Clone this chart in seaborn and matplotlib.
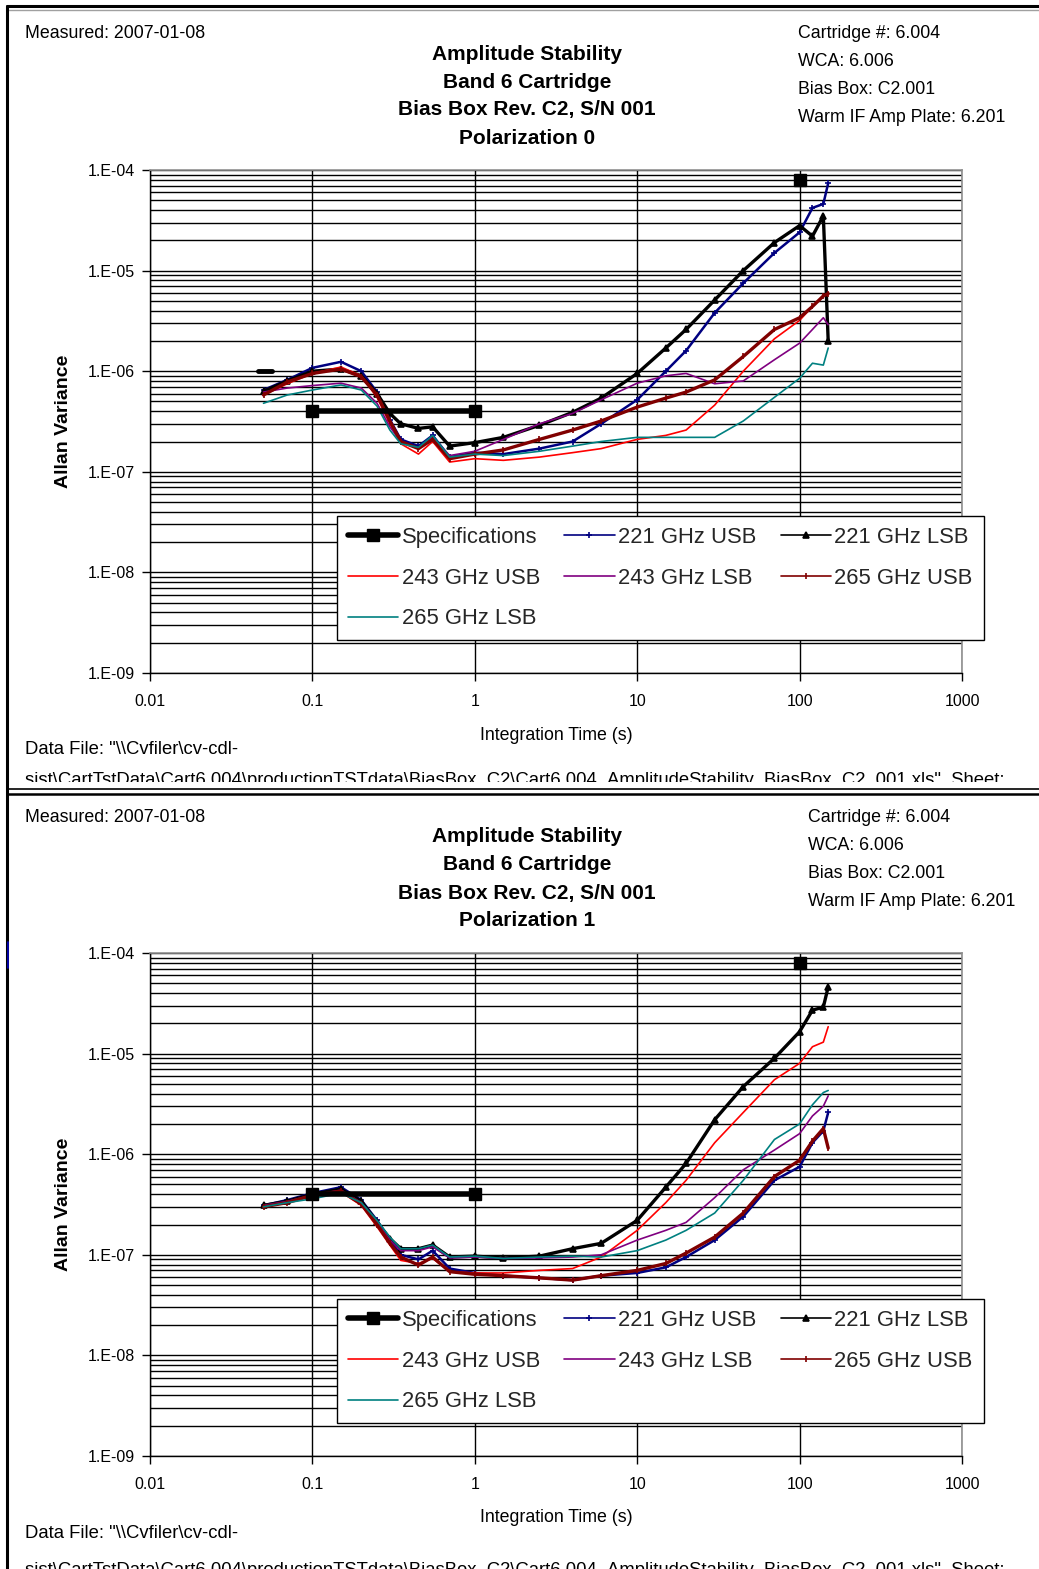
import numpy as np
import matplotlib
matplotlib.use('Agg')
import matplotlib.pyplot as plt
from matplotlib.lines import Line2D
from matplotlib.ticker import LogLocator, FuncFormatter, NullFormatter
import seaborn as sns

# figure size in pixels
W, H = 1039, 1569

# integration times (s)
tau = [0.05, 0.07, 0.1, 0.15, 0.2, 0.25, 0.3, 0.35, 0.45, 0.55, 0.7, 1.0, 1.5,
       2.5, 4, 6, 10, 15, 20, 30, 45, 70, 100, 120, 140, 150]

# Polarization 0 - Allan variance
p0_221_usb = [6.5e-7, 8.2e-7, 1.08e-6, 1.24e-6, 1.0e-6, 6.2e-7, 3.3e-7, 2.1e-7, 1.8e-7, 2.3e-7, 1.4e-7, 1.55e-7, 1.5e-7,
              1.7e-7, 2.0e-7, 3.0e-7, 5.2e-7, 1.0e-6, 1.6e-6, 3.8e-6, 7.5e-6, 1.5e-5, 2.4e-5, 4.2e-5, 4.6e-5, 7.4e-5]
p0_221_lsb = [6.3e-7, 8.0e-7, 1.0e-6, 1.05e-6, 9.0e-7, 6.0e-7, 3.8e-7, 3.0e-7, 2.7e-7, 2.8e-7, 1.8e-7, 1.95e-7, 2.2e-7,
              2.9e-7, 3.9e-7, 5.4e-7, 9.5e-7, 1.7e-6, 2.6e-6, 5.1e-6, 1.0e-5, 1.9e-5, 2.8e-5, 2.2e-5, 3.5e-5, 2.0e-6]
p0_243_usb = [5.8e-7, 7.5e-7, 9.5e-7, 1.1e-6, 9.0e-7, 5.5e-7, 3.0e-7, 1.9e-7, 1.5e-7, 2.0e-7, 1.25e-7, 1.35e-7, 1.3e-7,
              1.4e-7, 1.55e-7, 1.7e-7, 2.1e-7, 2.3e-7, 2.6e-7, 4.6e-7, 1.0e-6, 2.1e-6, 3.2e-6, 4.4e-6, 5.6e-6, 6.0e-6]
p0_243_lsb = [6.2e-7, 6.8e-7, 7.2e-7, 7.6e-7, 6.8e-7, 4.8e-7, 2.8e-7, 2.0e-7, 1.7e-7, 2.2e-7, 1.45e-7, 1.6e-7, 2.1e-7,
              3.0e-7, 3.8e-7, 5.2e-7, 7.6e-7, 9.0e-7, 9.5e-7, 7.5e-7, 8.0e-7, 1.3e-6, 1.9e-6, 2.6e-6, 3.4e-6, 2.9e-6]
p0_265_usb = [5.8e-7, 7.8e-7, 9.5e-7, 1.05e-6, 8.8e-7, 5.8e-7, 3.2e-7, 2.0e-7, 1.7e-7, 2.1e-7, 1.35e-7, 1.5e-7, 1.65e-7,
              2.1e-7, 2.6e-7, 3.2e-7, 4.4e-7, 5.4e-7, 6.2e-7, 8.2e-7, 1.4e-6, 2.6e-6, 3.4e-6, 4.4e-6, 5.6e-6, 5.9e-6]
p0_265_lsb = [4.8e-7, 5.8e-7, 6.5e-7, 7.3e-7, 6.5e-7, 4.5e-7, 2.6e-7, 1.9e-7, 1.75e-7, 2.3e-7, 1.4e-7, 1.5e-7, 1.45e-7,
              1.6e-7, 1.8e-7, 2.0e-7, 2.2e-7, 2.2e-7, 2.2e-7, 2.2e-7, 3.2e-7, 5.5e-7, 8.5e-7, 1.2e-6, 1.15e-6, 1.7e-6]

# Polarization 1 - Allan variance
p1_221_usb = [3.1e-7, 3.5e-7, 4.1e-7, 4.7e-7, 3.5e-7, 2.2e-7, 1.4e-7, 1.0e-7, 9.0e-8, 1.1e-7, 7.3e-8, 6.6e-8, 6.2e-8,
              5.9e-8, 5.6e-8, 6.2e-8, 6.6e-8, 7.5e-8, 9.5e-8, 1.4e-7, 2.4e-7, 5.5e-7, 7.5e-7, 1.3e-6, 1.7e-6, 2.6e-6]
p1_221_lsb = [3.1e-7, 3.4e-7, 4.0e-7, 4.5e-7, 3.4e-7, 2.1e-7, 1.45e-7, 1.15e-7, 1.15e-7, 1.25e-7, 9.5e-8, 9.7e-8, 9.3e-8,
              9.7e-8, 1.15e-7, 1.3e-7, 2.2e-7, 4.7e-7, 8.1e-7, 2.2e-6, 4.7e-6, 9.0e-6, 1.65e-5, 2.7e-5, 2.9e-5, 4.6e-5]
p1_243_usb = [3.0e-7, 3.3e-7, 3.9e-7, 4.2e-7, 3.1e-7, 1.9e-7, 1.25e-7, 8.8e-8, 8.2e-8, 9.2e-8, 6.8e-8, 6.6e-8, 6.6e-8,
              7.0e-8, 7.3e-8, 9.5e-8, 1.75e-7, 3.3e-7, 5.5e-7, 1.3e-6, 2.6e-6, 5.5e-6, 8.0e-6, 1.17e-5, 1.3e-5, 1.85e-5]
p1_243_lsb = [3.1e-7, 3.4e-7, 3.9e-7, 4.4e-7, 3.3e-7, 2.1e-7, 1.4e-7, 1.1e-7, 1.1e-7, 1.2e-7, 9.3e-8, 9.5e-8, 9.2e-8,
              9.3e-8, 9.5e-8, 1.0e-7, 1.4e-7, 1.75e-7, 2.1e-7, 3.7e-7, 7.0e-7, 1.1e-6, 1.6e-6, 2.4e-6, 3.0e-6, 3.8e-6]
p1_265_usb = [3.0e-7, 3.3e-7, 3.9e-7, 4.3e-7, 3.2e-7, 2.0e-7, 1.3e-7, 9.5e-8, 7.9e-8, 9.5e-8, 6.8e-8, 6.4e-8, 6.2e-8,
              5.9e-8, 5.6e-8, 6.2e-8, 7.0e-8, 8.2e-8, 1.04e-7, 1.5e-7, 2.6e-7, 6.0e-7, 8.7e-7, 1.35e-6, 1.8e-6, 1.15e-6]
p1_265_lsb = [3.0e-7, 3.3e-7, 3.6e-7, 4.1e-7, 3.3e-7, 2.2e-7, 1.5e-7, 1.15e-7, 1.15e-7, 1.25e-7, 9.5e-8, 9.7e-8, 9.2e-8,
              9.5e-8, 9.7e-8, 9.5e-8, 1.1e-7, 1.4e-7, 1.75e-7, 2.6e-7, 5.5e-7, 1.4e-6, 2.0e-6, 3.1e-6, 4.1e-6, 4.3e-6]

# specification limits
spec_tau = [0.1, 1.0]
spec_val = [4e-7, 4e-7]
spec_pt_tau = [100.0]
spec_pt_val = [8e-5]
p0_dash_tau = [0.046, 0.056]
p0_dash_val = [1e-6, 1e-6]

series_labels = ['221 GHz USB', '221 GHz LSB', '243 GHz USB', '243 GHz LSB', '265 GHz USB', '265 GHz LSB']
series_colors = ['#000080', '#000000', '#FF0000', '#800080', '#800000', '#008080']
series_markers = ['+', '^', None, None, '|', None]

title_lines = ['Amplitude Stability', 'Band 6 Cartridge', 'Bias Box Rev. C2, S/N 001']
info_lines = ['Cartridge #: 6.004', 'WCA: 6.006', 'Bias Box: C2.001', 'Warm IF Amp Plate: 6.201']
measured = 'Measured: 2007-01-08'
datafile_1 = 'Data File: "\\\\Cvfiler\\cv-cdl-'
datafile_2 = ('sist\\CartTstData\\Cart6.004\\productionTSTdata\\BiasBox_C2\\'
              'Cart6.004_AmplitudeStability_BiasBox_C2_001.xls", Sheet:')

sns.set_theme(style='white')
plt.rcParams['font.family'] = ['Liberation Sans', 'DejaVu Sans']

fig = plt.figure(figsize=(W / 100, H / 100), dpi=100)
fig.patch.set_facecolor('white')


def fx(px):
    return px / W


def fy(py):
    return 1 - py / H


def sci_label(v, pos):
    return '1.E%03d' % int(round(np.log10(v)))


def draw_panel(top, bottom, off, info_x, file2_y, pol, curves, dash):
    # background area for the texts (clips the cut-off second file line)
    bg = fig.add_axes([fx(8), fy(bottom), 1 - fx(8), (bottom - top) / H], zorder=0)
    bg.set_xticks([])
    bg.set_yticks([])
    for s in bg.spines.values():
        s.set_visible(False)

    kw = dict(transform=fig.transFigure, clip_on=True, color='black')
    bg.text(fx(25), fy(34 + off), measured, fontsize=12.8, ha='left', va='center', **kw)
    for i, t in enumerate(title_lines + ['Polarization %d' % pol]):
        bg.text(fx(527), fy(54 + off + 28 * i), t, fontsize=15, fontweight='bold',
                ha='center', va='center', **kw)
    for i, t in enumerate(info_lines):
        bg.text(fx(info_x), fy(34 + off + 28 * i), t, fontsize=12.8, ha='left', va='center', **kw)
    bg.text(fx(25), fy(750 + off), datafile_1, fontsize=13.3, ha='left', va='center', **kw)
    bg.text(fx(25), fy(file2_y), datafile_2, fontsize=13.3, ha='left', va='center', **kw)

    ax_top = 170 + off
    ax = fig.add_axes([fx(150), fy(ax_top + 503), 812 / W, 503 / H], zorder=2)
    ax.set_xscale('log')
    ax.set_yscale('log')

    for vals, lab, col, mk in zip(curves, series_labels, series_colors, series_markers):
        lw = 2.4 if col in ('#000000', '#800000') else (1.8 if col == '#000080' else 1.2)
        sns.lineplot(x=tau, y=vals, ax=ax, color=col, lw=lw, marker=mk, ms=5,
                     mec=col, mew=1.2, estimator=None, sort=False, legend=False, zorder=3)

    ax.plot(spec_tau, spec_val, color='black', lw=4, marker='s', ms=8, zorder=5)
    ax.plot(spec_pt_tau, spec_pt_val, color='black', lw=0, marker='s', ms=8, zorder=5)
    if dash:
        ax.plot(p0_dash_tau, p0_dash_val, color='black', lw=3.5, zorder=5)

    ax.set_xlim(0.01, 1000)
    ax.set_ylim(1e-9, 1e-4)
    ax.xaxis.set_major_locator(LogLocator(base=10, numticks=10))
    ax.xaxis.set_minor_locator(LogLocator(base=10, subs=[]))
    ax.xaxis.set_major_formatter(FuncFormatter(lambda v, p: '%g' % v))
    ax.yaxis.set_major_locator(LogLocator(base=10, numticks=10))
    ax.yaxis.set_minor_locator(LogLocator(base=10, subs=np.arange(2, 10), numticks=20))
    ax.yaxis.set_major_formatter(FuncFormatter(sci_label))
    ax.yaxis.set_minor_formatter(NullFormatter())

    ax.set_axisbelow(True)
    ax.grid(True, which='both', axis='y', color='black', lw=1.0)
    ax.grid(True, which='major', axis='x', color='black', lw=1.0)
    ax.tick_params(axis='both', which='major', direction='out', length=6, width=1,
                   color='black', labelsize=11.5, labelcolor='black', left=True, bottom=True)
    ax.tick_params(axis='y', which='major', pad=5)
    ax.tick_params(axis='x', which='major', pad=9)
    ax.tick_params(which='minor', length=0)
    for side in ('left', 'bottom'):
        ax.spines[side].set_color('black')
        ax.spines[side].set_linewidth(1.0)
    for side in ('top', 'right'):
        ax.spines[side].set_color('#909090')
        ax.spines[side].set_linewidth(1.2)

    ax.set_ylabel('Allan Variance', fontsize=14, fontweight='bold', color='black', va='center')
    ax.yaxis.set_label_coords((63 - 150) / 812, 0.5)
    ax.set_xlabel('Integration Time (s)', fontsize=12.8, color='black', va='center')
    ax.xaxis.set_label_coords(0.5, -(735 - 673) / 503)

    # legend in Excel row order
    handles = [Line2D([], [], color='black', lw=4, marker='s', ms=8)]
    for lab, col, mk in zip(series_labels, series_colors, series_markers):
        handles.append(Line2D([], [], color=col, lw=1.2, marker=mk, ms=5, mew=1.2))
    labels = ['Specifications'] + series_labels
    order = [0, 3, 6, 1, 4, 2, 5]
    leg = ax.legend([handles[i] for i in order], [labels[i] for i in order], ncol=3,
                    loc='upper left', bbox_to_anchor=(fx(337), fy(516 + off)),
                    bbox_transform=fig.transFigure, fontsize=15.8, frameon=True,
                    fancybox=False, framealpha=1, edgecolor='black', borderpad=0.5,
                    handlelength=2.3, handletextpad=0.15, columnspacing=1.1,
                    labelspacing=0.9, borderaxespad=0)
    leg.get_frame().set_linewidth(1.0)
    leg.set_zorder(10)
    return ax


draw_panel(8, 782, 0, 798, 780, 0,
           [p0_221_usb, p0_221_lsb, p0_243_usb, p0_243_lsb, p0_265_usb, p0_265_lsb], True)
draw_panel(795, 1569, 783, 808, 1570, 1,
           [p1_221_usb, p1_221_lsb, p1_243_usb, p1_243_lsb, p1_265_usb, p1_265_lsb], False)

# sheet frame lines
for (x0, y0, x1, y1, c, lw) in [(7, 6, 1039, 6, 'black', 2.2), (7, 10, 1039, 10, '#a0a0a0', 1.0),
                                (7, 6, 7, 1569, 'black', 2.2), (7, 789, 1039, 789, 'black', 1.2),
                                (7, 794, 1039, 794, 'black', 1.8), (8, 942, 8, 968, '#0000c0', 1.2)]:
    fig.add_artist(Line2D([fx(x0), fx(x1)], [fy(y0), fy(y1)], transform=fig.transFigure,
                          color=c, lw=lw, zorder=20))

fig.savefig('out.png', dpi=100, facecolor='white')
